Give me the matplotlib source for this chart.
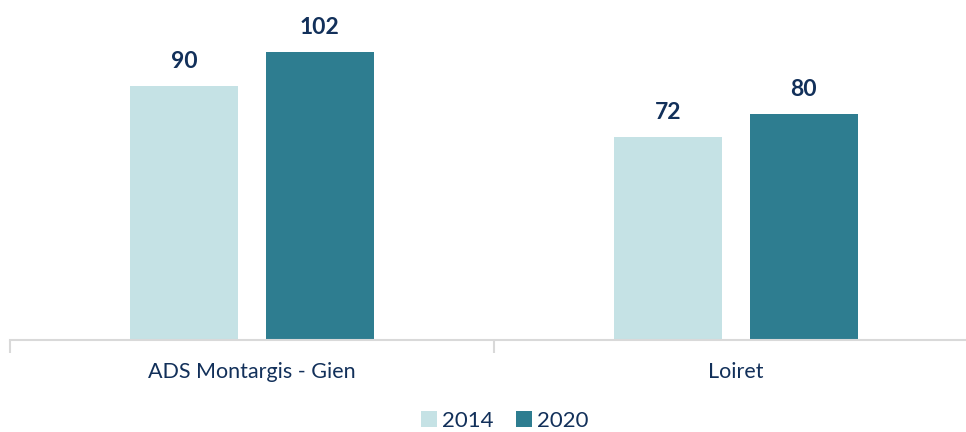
import numpy as np
import matplotlib.pyplot as plt

categories = ["ADS Montargis - Gien", "Loiret"]
years = ["2014", "2020"]
values_2014 = [90, 72]
values_2020 = [102, 80]

colors = ["#c5e2e5", "#2e7d90"]
text_color = "#12305a"
axis_color = "#d9d9d9"

plt.rcParams["font.family"] = ["Lato", "DejaVu Sans"]

fig = plt.figure(figsize=(9.66, 4.32), dpi=100)
W, H = 966, 432
# axes: x from 10 px, 484 px per category; baseline at 340 px from top
ax = fig.add_axes([10 / W, (H - 340) / H, 968 / W, 340 / H])

x = np.arange(len(categories))
width = 0.223
offset = 0.14

bars1 = ax.bar(x - offset, values_2014, width, color=colors[0], label=years[0])
bars2 = ax.bar(x + offset, values_2020, width, color=colors[1], label=years[1])

for bars in (bars1, bars2):
    for b in bars:
        ax.annotate(f"{b.get_height():.0f}",
                    (b.get_x() + b.get_width() / 2, b.get_height()),
                    xytext=(0, 10), textcoords="offset points",
                    ha="center", va="bottom", fontsize=16.5,
                    fontweight="bold", color=text_color)

ax.set_xlim(-0.5, 1.5)
ax.set_ylim(0, 120.4)
ax.set_yticks([])
for s in ["top", "right", "left"]:
    ax.spines[s].set_visible(False)
ax.spines["bottom"].set_color(axis_color)
ax.spines["bottom"].set_linewidth(1.5)

ax.set_xticks([-0.5, 0.5, 1.5], minor=False)
ax.set_xticklabels([])
ax.tick_params(axis="x", which="major", length=9, width=1.5, color=axis_color)
ax.set_xticks(x, minor=True)
ax.set_xticklabels(categories, minor=True, fontsize=15.5, color=text_color)
ax.tick_params(axis="x", which="minor", length=0, pad=16)

fig.legend(handles=[bars1, bars2], labels=years, loc="center",
           bbox_to_anchor=(505 / W, (H - 421) / H), ncol=2, frameon=False,
           fontsize=16, labelcolor=text_color, handlelength=0.7,
           handleheight=0.7, handletextpad=0.25, columnspacing=1.0)

fig.savefig("out.png", dpi=100)
